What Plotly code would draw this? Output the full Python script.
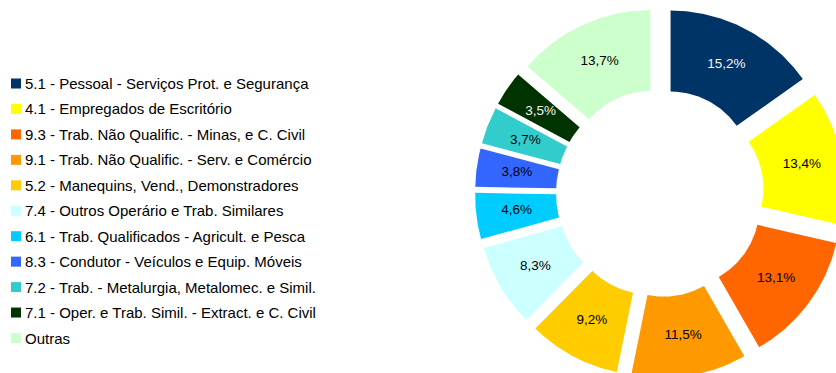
import numpy as np
import plotly.graph_objects as go

# Occupation groups and their share (%) of the total
categories = [
    "5.1 - Pessoal - Serviços Prot. e Segurança",
    "4.1 - Empregados de Escritório",
    "9.3 - Trab. Não Qualific. - Minas, e C. Civil",
    "9.1 - Trab. Não Qualific. - Serv. e Comércio",
    "5.2 - Manequins, Vend., Demonstradores",
    "7.4 - Outros Operário e Trab. Similares",
    "6.1 - Trab. Qualificados - Agricult. e Pesca",
    "8.3 - Condutor - Veículos e Equip. Móveis",
    "7.2 - Trab. - Metalurgia, Metalomec. e Simil.",
    "7.1 - Oper. e Trab. Simil. - Extract. e C. Civil",
    "Outras",
]
values = [15.2, 13.4, 13.1, 11.5, 9.2, 8.3, 4.6, 3.8, 3.7, 3.5, 13.7]
colors = [
    "#003366", "#FFFF00", "#FF6600", "#FF9900", "#FFCC00", "#CCFFFF",
    "#00CCFF", "#3366FF", "#33CCCC", "#003300", "#CCFFCC",
]
label_colors = [
    "#F4F4F4", "#000000", "#000000", "#000000", "#000000", "#000000",
    "#000000", "#000000", "#000000", "#F4F4F4", "#000000",
]

# Canvas geometry (pixel units on the hidden axes)
W, H = 836, 373
CX, CY = 660.0, 193.0
R_OUT, R_IN = 162.0, 81.0
EXPLODE = 23.0
FONT = "Liberation Sans, Arial, sans-serif"

# Legend layout
LEG_SQ_X, LEG_TXT_X = 16.0, 24.0
LEG_Y0, LEG_DY = 83.5, 25.45


def polar(rho, deg):
    """Clockwise angle from 12 o'clock -> screen x/y (y grows downward)."""
    t = np.radians(deg)
    return CX + rho * np.sin(t), CY - rho * np.cos(t)


fig = go.Figure()

total = float(sum(values))
start = 0.0
lab_x, lab_y, lab_t = [], [], []
for name, v, col in zip(categories, values, colors):
    a0 = start / total * 360.0
    a1 = (start + v) / total * 360.0
    mid = (a0 + a1) / 2.0
    dx, dy = polar(EXPLODE, mid)
    dx -= CX
    dy -= CY
    arc = np.linspace(a0, a1, 80)
    ox, oy = polar(R_OUT, arc)
    ix, iy = polar(R_IN, arc[::-1])
    xs = np.concatenate([ox, ix, ox[:1]]) + dx
    ys = np.concatenate([oy, iy, oy[:1]]) + dy
    fig.add_trace(go.Scatter(
        x=xs, y=ys, mode="lines", fill="toself", fillcolor=col,
        line=dict(width=0, color=col), name=name, hoverinfo="name",
        showlegend=False,
    ))
    lx, ly = polar((R_OUT + R_IN) / 2.0 + EXPLODE, mid)
    lab_x.append(lx)
    lab_y.append(ly)
    lab_t.append(f"{v:.1f}%".replace(".", ","))
    start += v

# Percentage labels on the slices
fig.add_trace(go.Scatter(
    x=lab_x, y=lab_y, mode="text", text=lab_t,
    textfont=dict(family=FONT, size=13.5, color=label_colors),
    hoverinfo="skip", showlegend=False,
))

# Legend: coloured squares with their category names
leg_y = [LEG_Y0 + i * LEG_DY for i in range(len(categories))]
fig.add_trace(go.Scatter(
    x=[LEG_SQ_X] * len(categories), y=leg_y, mode="markers",
    marker=dict(symbol="square", size=10, color=colors, line=dict(width=0)),
    hoverinfo="skip", showlegend=False,
))
for name, y in zip(categories, leg_y):
    fig.add_annotation(
        x=LEG_TXT_X, y=y, text=name, showarrow=False,
        xanchor="left", yanchor="middle", borderpad=0,
        font=dict(family=FONT, size=15, color="#000000"),
    )

fig.update_layout(
    width=W, height=H,
    margin=dict(l=0, r=0, t=0, b=0),
    paper_bgcolor="white", plot_bgcolor="white",
    xaxis=dict(range=[0, W], visible=False, fixedrange=True),
    yaxis=dict(range=[H, 0], visible=False, fixedrange=True),
    showlegend=False,
)

fig.write_html("out.html")
